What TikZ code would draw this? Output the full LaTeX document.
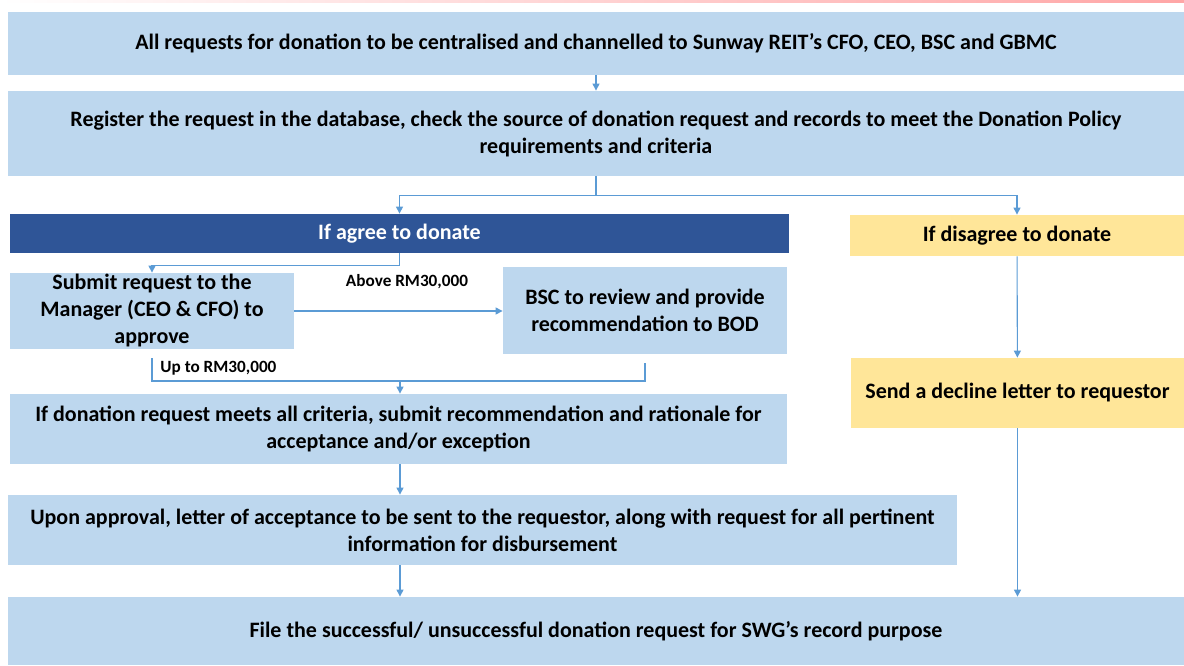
\documentclass[tikz,border=0pt]{standalone}
\usepackage{fontspec}
\setmainfont{Carlito}
\usetikzlibrary{arrows.meta}
\definecolor{boxblue}{HTML}{BDD7EE}
\definecolor{darkblue}{HTML}{2F5597}
\definecolor{paleyellow}{HTML}{FFE699}
\definecolor{linkblue}{HTML}{5B9BD5}

\begin{document}
\begin{tikzpicture}[x=0.5pt,y=-0.5pt,
	every node/.style={font=\bfseries\fontsize{11}{13.5}\selectfont},
	box/.style={fill=boxblue, inner sep=0, align=center},
	lbl/.style={font=\bfseries\fontsize{8.6}{10}\selectfont, inner sep=0},
	link/.style={draw=linkblue, line width=0.55pt},
	arr/.style={link, -{Triangle[length=3.5pt,width=3.5pt]}}]
	\useasboundingbox (0,0) rectangle (1184,665);
	\shade[left color=white, right color=red!35] (0,0) rectangle (1184,2.5); %page edge
	% boxes
	\node[box, minimum width=588pt, minimum height=31.5pt] (req) at (596,43.5)
		{All requests for donation to be centralised and channelled to Sunway REIT’s CFO, CEO, BSC and GBMC};
	\node[box, minimum width=588pt, minimum height=42.5pt] (reg) at (596,133.5)
		{Register the request in the database, check the source of donation request and records to meet the Donation Policy\\ requirements and criteria};
	\node[box, fill=darkblue, text=white, minimum width=389.5pt, minimum height=19.5pt] (agree) at (399.5,233.5) {If agree to donate};
	\node[box, fill=paleyellow, minimum width=167pt, minimum height=20.5pt] (disagree) at (1017,235.5) {If disagree to donate};
	\node[box, minimum width=142pt, minimum height=38pt] (submit) at (152,311)
		{Submit request to the\\ Manager (CEO \& CFO) to\\ approve};
	\node[box, minimum width=142pt, minimum height=43.5pt] (bsc) at (645,310.5)
		{BSC to review and provide\\ recommendation to BOD};
	\node[box, minimum width=388.5pt, minimum height=35pt] (crit) at (398.5,429)
		{If donation request meets all criteria, submit recommendation and rationale for\\ acceptance and/or exception};
	\node[box, fill=paleyellow, minimum width=166.5pt, minimum height=35pt] (decline) at (1017.5,393) {Send a decline letter to requestor};
	\node[box, minimum width=474.5pt, minimum height=35pt] (accept) at (482.5,530)
		{Upon approval, letter of acceptance to be sent to the requestor, along with request for all pertinent\\ information for disbursement};
	\node[box, minimum width=588pt, minimum height=34pt] (file) at (596,631)
		{File the successful/ unsuccessful donation request for SWG’s record purpose};
	% labels
	\node[lbl] (above) at (407,282) {Above RM30,000};
	\node[lbl, anchor=west] (upto) at (160,368) {Up to RM30,000};
	% links
	\coordinate (join) at (400,381);
	\draw[arr] (req) -- (reg);
	\draw[arr] (reg.south) -- ++(0,19) -| (agree.north);
	\draw[arr] (reg.south) -- ++(0,19) -| (disagree.north);
	\draw[arr] (agree.south) -- ++(0,12) -| (submit.north);
	\draw[arr] (submit.east) -- (submit.east -| bsc.west);
	\draw[link] ([yshift=-4.5pt]submit.south) |- (join);
	\draw[link] ([yshift=-4.5pt]bsc.south) |- (join);
	\draw[arr] (join) -- (join |- crit.north);
	\draw[arr] (join |- crit.south) -- (join |- accept.north);
	\draw[arr] (join |- accept.south) -- (join |- file.north);
	\draw[arr] (disagree) -- (decline);
	\draw[arr] (decline.south) -- (decline.south |- file.north);
\end{tikzpicture}
\end{document}
